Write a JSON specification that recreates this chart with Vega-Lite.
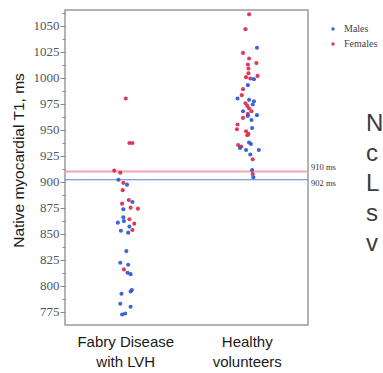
{
  "$schema": "https://vega.github.io/schema/vega-lite/v6.json",
  "width": 243,
  "height": 315,
  "autosize": "none",
  "padding": {"left": 65, "top": 10, "right": 75, "bottom": 48},
  "background": "white",
  "config": {
    "view": {"stroke": "#9a9a9a", "strokeWidth": 1.5},
    "axis": {"grid": false}
  },
  "resolve": {"axis": {"y": "independent"}},
  "datasets": {
    "pts": [
      {"group": "Fabry Disease with LVH", "sex": "Females", "t1": 980, "jitter": 0.0},
      {"group": "Fabry Disease with LVH", "sex": "Females", "t1": 937.3, "jitter": 0.06},
      {"group": "Fabry Disease with LVH", "sex": "Females", "t1": 937.3, "jitter": 0.11},
      {"group": "Fabry Disease with LVH", "sex": "Females", "t1": 910.8, "jitter": -0.19},
      {"group": "Fabry Disease with LVH", "sex": "Females", "t1": 908.8, "jitter": -0.09},
      {"group": "Fabry Disease with LVH", "sex": "Males", "t1": 902, "jitter": -0.12},
      {"group": "Fabry Disease with LVH", "sex": "Females", "t1": 899, "jitter": -0.04},
      {"group": "Fabry Disease with LVH", "sex": "Males", "t1": 897.3, "jitter": 0.02},
      {"group": "Fabry Disease with LVH", "sex": "Females", "t1": 892, "jitter": -0.05},
      {"group": "Fabry Disease with LVH", "sex": "Females", "t1": 882.5, "jitter": 0.05},
      {"group": "Fabry Disease with LVH", "sex": "Females", "t1": 879, "jitter": -0.06},
      {"group": "Fabry Disease with LVH", "sex": "Males", "t1": 880.6, "jitter": 0.11},
      {"group": "Fabry Disease with LVH", "sex": "Females", "t1": 875.2, "jitter": 0.08},
      {"group": "Fabry Disease with LVH", "sex": "Females", "t1": 874.2, "jitter": 0.2},
      {"group": "Fabry Disease with LVH", "sex": "Males", "t1": 873.6, "jitter": -0.04},
      {"group": "Fabry Disease with LVH", "sex": "Males", "t1": 866, "jitter": -0.04},
      {"group": "Fabry Disease with LVH", "sex": "Males", "t1": 862.3, "jitter": -0.03},
      {"group": "Fabry Disease with LVH", "sex": "Males", "t1": 860.8, "jitter": -0.13},
      {"group": "Fabry Disease with LVH", "sex": "Females", "t1": 864, "jitter": 0.06},
      {"group": "Fabry Disease with LVH", "sex": "Females", "t1": 859.8, "jitter": 0.14},
      {"group": "Fabry Disease with LVH", "sex": "Males", "t1": 857, "jitter": 0.06},
      {"group": "Fabry Disease with LVH", "sex": "Females", "t1": 853.7, "jitter": 0.11},
      {"group": "Fabry Disease with LVH", "sex": "Males", "t1": 853, "jitter": -0.08},
      {"group": "Fabry Disease with LVH", "sex": "Males", "t1": 851.2, "jitter": 0.04},
      {"group": "Fabry Disease with LVH", "sex": "Males", "t1": 833.5, "jitter": 0.01},
      {"group": "Fabry Disease with LVH", "sex": "Males", "t1": 822.3, "jitter": -0.09},
      {"group": "Fabry Disease with LVH", "sex": "Males", "t1": 820.4, "jitter": 0.04},
      {"group": "Fabry Disease with LVH", "sex": "Females", "t1": 815.9, "jitter": -0.03},
      {"group": "Fabry Disease with LVH", "sex": "Males", "t1": 812.7, "jitter": 0.03},
      {"group": "Fabry Disease with LVH", "sex": "Males", "t1": 811.3, "jitter": 0.08},
      {"group": "Fabry Disease with LVH", "sex": "Males", "t1": 796, "jitter": 0.1},
      {"group": "Fabry Disease with LVH", "sex": "Males", "t1": 794.7, "jitter": 0.08},
      {"group": "Fabry Disease with LVH", "sex": "Males", "t1": 792.5, "jitter": -0.07},
      {"group": "Fabry Disease with LVH", "sex": "Males", "t1": 782.9, "jitter": -0.09},
      {"group": "Fabry Disease with LVH", "sex": "Males", "t1": 780, "jitter": 0.08},
      {"group": "Fabry Disease with LVH", "sex": "Males", "t1": 773.6, "jitter": -0.01},
      {"group": "Fabry Disease with LVH", "sex": "Males", "t1": 772.6, "jitter": -0.06},
      {"group": "Healthy volunteers", "sex": "Females", "t1": 1060.8, "jitter": 0.03},
      {"group": "Healthy volunteers", "sex": "Females", "t1": 1046.6, "jitter": -0.03},
      {"group": "Healthy volunteers", "sex": "Males", "t1": 1028.7, "jitter": 0.16},
      {"group": "Healthy volunteers", "sex": "Females", "t1": 1023.8, "jitter": -0.07},
      {"group": "Healthy volunteers", "sex": "Females", "t1": 1018.4, "jitter": 0.03},
      {"group": "Healthy volunteers", "sex": "Females", "t1": 1014, "jitter": 0.15},
      {"group": "Healthy volunteers", "sex": "Females", "t1": 1012.7, "jitter": 0.01},
      {"group": "Healthy volunteers", "sex": "Females", "t1": 1008.8, "jitter": 0.02},
      {"group": "Healthy volunteers", "sex": "Females", "t1": 1004.3, "jitter": 0.02},
      {"group": "Healthy volunteers", "sex": "Females", "t1": 1001.7, "jitter": 0.17},
      {"group": "Healthy volunteers", "sex": "Females", "t1": 1000.5, "jitter": -0.02},
      {"group": "Healthy volunteers", "sex": "Females", "t1": 999.2, "jitter": 0.05},
      {"group": "Healthy volunteers", "sex": "Males", "t1": 998.6, "jitter": 0.11},
      {"group": "Healthy volunteers", "sex": "Males", "t1": 992.8, "jitter": 0.01},
      {"group": "Healthy volunteers", "sex": "Females", "t1": 989, "jitter": -0.07},
      {"group": "Healthy volunteers", "sex": "Females", "t1": 983.2, "jitter": -0.09},
      {"group": "Healthy volunteers", "sex": "Males", "t1": 980, "jitter": -0.16},
      {"group": "Healthy volunteers", "sex": "Males", "t1": 978.7, "jitter": 0.03},
      {"group": "Healthy volunteers", "sex": "Males", "t1": 977.4, "jitter": 0.11},
      {"group": "Healthy volunteers", "sex": "Females", "t1": 975.5, "jitter": -0.03},
      {"group": "Healthy volunteers", "sex": "Males", "t1": 974.2, "jitter": 0.09},
      {"group": "Healthy volunteers", "sex": "Females", "t1": 972.9, "jitter": 0.0},
      {"group": "Healthy volunteers", "sex": "Females", "t1": 970.4, "jitter": 0.03},
      {"group": "Healthy volunteers", "sex": "Males", "t1": 967.8, "jitter": -0.07},
      {"group": "Healthy volunteers", "sex": "Females", "t1": 967.8, "jitter": 0.07},
      {"group": "Healthy volunteers", "sex": "Females", "t1": 965.2, "jitter": 0.01},
      {"group": "Healthy volunteers", "sex": "Males", "t1": 964, "jitter": 0.16},
      {"group": "Healthy volunteers", "sex": "Males", "t1": 963.3, "jitter": 0.01},
      {"group": "Healthy volunteers", "sex": "Females", "t1": 961.4, "jitter": -0.07},
      {"group": "Healthy volunteers", "sex": "Males", "t1": 959.4, "jitter": 0.07},
      {"group": "Healthy volunteers", "sex": "Females", "t1": 955, "jitter": -0.16},
      {"group": "Healthy volunteers", "sex": "Females", "t1": 950.5, "jitter": -0.17},
      {"group": "Healthy volunteers", "sex": "Males", "t1": 951.7, "jitter": 0.08},
      {"group": "Healthy volunteers", "sex": "Females", "t1": 948.6, "jitter": -0.02},
      {"group": "Healthy volunteers", "sex": "Females", "t1": 946, "jitter": 0.02},
      {"group": "Healthy volunteers", "sex": "Females", "t1": 944.7, "jitter": 0.0},
      {"group": "Healthy volunteers", "sex": "Males", "t1": 937.7, "jitter": 0.03},
      {"group": "Healthy volunteers", "sex": "Males", "t1": 936.3, "jitter": 0.06},
      {"group": "Healthy volunteers", "sex": "Females", "t1": 935.4, "jitter": -0.15},
      {"group": "Healthy volunteers", "sex": "Females", "t1": 933.8, "jitter": -0.1},
      {"group": "Healthy volunteers", "sex": "Males", "t1": 932.5, "jitter": -0.12},
      {"group": "Healthy volunteers", "sex": "Males", "t1": 930.6, "jitter": -0.02},
      {"group": "Healthy volunteers", "sex": "Males", "t1": 930.6, "jitter": 0.19},
      {"group": "Healthy volunteers", "sex": "Males", "t1": 926.2, "jitter": 0.05},
      {"group": "Healthy volunteers", "sex": "Females", "t1": 921.6, "jitter": 0.09},
      {"group": "Healthy volunteers", "sex": "Males", "t1": 911.3, "jitter": 0.08},
      {"group": "Healthy volunteers", "sex": "Females", "t1": 907.5, "jitter": 0.09},
      {"group": "Healthy volunteers", "sex": "Males", "t1": 904.3, "jitter": 0.1}
    ]
  },
  "layer": [
    {
      "data": {"values": [{"ref": 910}]},
      "mark": {"type": "rule", "color": "#f4a3b4", "strokeWidth": 2},
      "encoding": {
        "y": {
          "field": "ref",
          "type": "quantitative",
          "scale": {"domain": [762.5, 1065], "nice": false, "zero": false},
          "axis": {
            "orient": "left",
            "title": "Native myocardial T1, ms",
            "titleFont": "Liberation Sans",
            "titleFontSize": 15.5,
            "titleFontWeight": "normal",
            "titleColor": "#1a1a1a",
            "titleX": -47,
            "titleY": 150,
            "titleAlign": "center",
            "titleBaseline": "middle",
            "domain": false,
            "values": [775, 800, 825, 850, 875, 900, 925, 950, 975, 1000, 1025, 1050],
            "format": "d",
            "labelOverlap": false,
            "labelFont": "Liberation Serif",
            "labelFontSize": 13,
            "labelColor": "#555555",
            "labelPadding": 1,
            "tickColor": "#888888",
            "tickSize": 5
          }
        }
      }
    },
    {
      "data": {"values": [{"ref": 902}]},
      "mark": {"type": "rule", "color": "#5a7fdc", "strokeWidth": 1.2},
      "encoding": {
        "y": {
          "field": "ref",
          "type": "quantitative",
          "axis": {
            "orient": "left",
            "title": null,
            "domain": false,
            "labels": false,
            "values": [787.5, 812.5, 837.5, 862.5, 887.5, 912.5, 937.5, 962.5, 987.5, 1012.5, 1037.5, 1062.5],
            "tickColor": "#888888",
            "tickSize": 3
          }
        }
      }
    },
    {
      "data": {"name": "pts"},
      "mark": {"type": "circle", "size": 17, "opacity": 0.92},
      "encoding": {
        "x": {
          "field": "group",
          "type": "nominal",
          "scale": {"domain": ["Fabry Disease with LVH", "Healthy volunteers"], "paddingInner": 0, "paddingOuter": 0},
          "axis": {
            "title": null,
            "ticks": false,
            "domain": false,
            "labelAngle": 0,
            "labelExpr": "datum.value == 'Fabry Disease with LVH' ? ['Fabry Disease', 'with LVH'] : ['Healthy', 'volunteers']",
            "labelFont": "Liberation Sans",
            "labelFontSize": 15,
            "labelColor": "#1a1a1a",
            "labelPadding": 9,
            "labelBaseline": "top",
            "labelLineHeight": 20
          }
        },
        "xOffset": {"field": "jitter", "type": "quantitative", "scale": {"domain": [-1, 1]}},
        "y": {"field": "t1", "type": "quantitative", "axis": null},
        "color": {
          "field": "sex",
          "type": "nominal",
          "scale": {"domain": ["Males", "Females"], "range": ["#2a58d6", "#d92a4e"]},
          "legend": {
            "title": null,
            "orient": "none",
            "legendX": 263,
            "legendY": 14,
            "padding": 0,
            "symbolType": "circle",
            "symbolSize": 12,
            "labelFont": "Liberation Serif",
            "labelFontSize": 10,
            "labelColor": "#444444",
            "labelOffset": 6,
            "rowPadding": 5
          }
        }
      }
    },
    {
      "data": {"values": [{"ref": 910, "label": "910 ms"}]},
      "mark": {"type": "text", "align": "left", "baseline": "middle", "dx": 3, "dy": -4, "font": "Liberation Serif", "fontSize": 8.5, "color": "#333333"},
      "encoding": {"y": {"field": "ref", "type": "quantitative", "axis": null}, "x": {"value": "width"}, "text": {"field": "label"}}
    },
    {
      "data": {"values": [{"ref": 902, "label": "902 ms"}]},
      "mark": {"type": "text", "align": "left", "baseline": "middle", "dx": 3, "dy": 3, "font": "Liberation Serif", "fontSize": 8.5, "color": "#333333"},
      "encoding": {"y": {"field": "ref", "type": "quantitative", "axis": null}, "x": {"value": "width"}, "text": {"field": "label"}}
    },
    {
      "data": {"values": [{"t": "N\nc\nL\ns\nv"}]},
      "mark": {"type": "text", "align": "left", "baseline": "alphabetic", "lineBreak": "\n", "lineHeight": 30, "dx": 58, "font": "Liberation Sans", "fontSize": 24, "color": "#3c3c3c"},
      "encoding": {"y": {"datum": 948.5, "type": "quantitative", "axis": null}, "x": {"value": "width"}, "text": {"field": "t"}}
    }
  ]
}
